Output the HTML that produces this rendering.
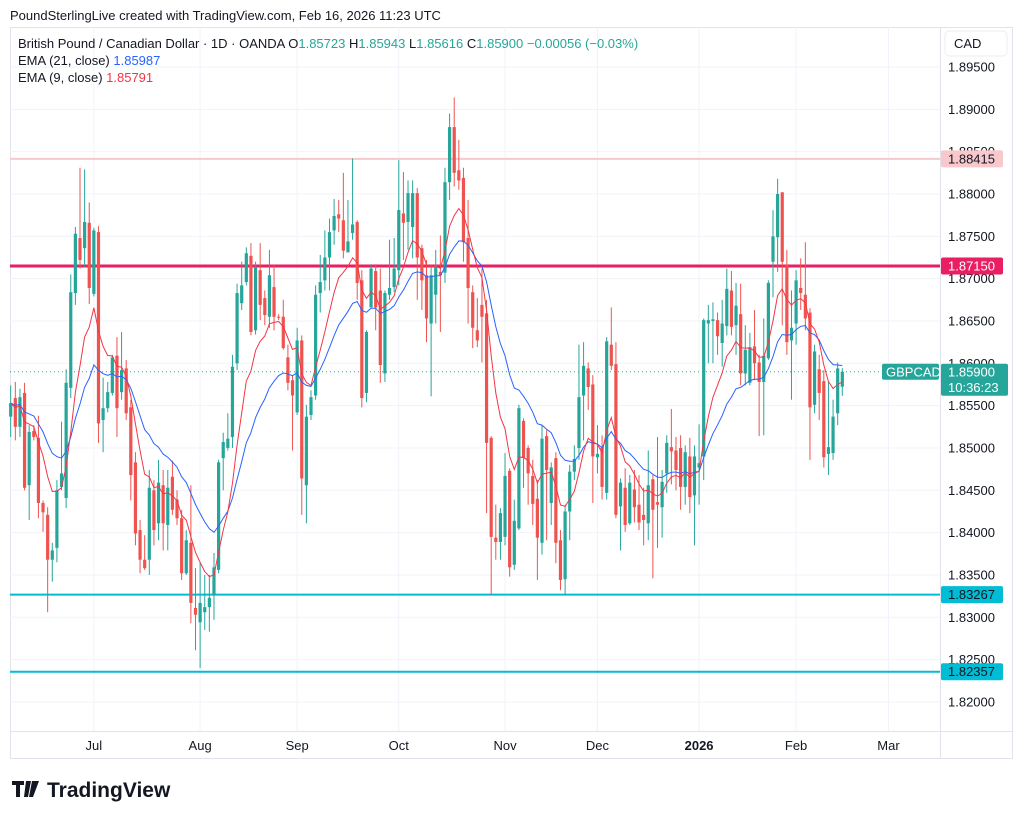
<!DOCTYPE html>
<html><head><meta charset="utf-8"><style>
body{margin:0;background:#fff;font-family:"Liberation Sans",Arial,sans-serif;}
svg text{font-family:"Liberation Sans",Arial,sans-serif;}
</style></head><body>
<svg id="chart" width="1022" height="819" viewBox="0 0 1022 819" xmlns="http://www.w3.org/2000/svg">
<rect width="1022" height="819" fill="#fff"/>
<text x="10" y="20" font-size="13" fill="#131722">PoundSterlingLive created with TradingView.com, Feb 16, 2026 11:23 UTC</text>
<rect x="10.5" y="27.5" width="1002" height="731" fill="none" stroke="#e0e3eb"/>
<g id="grid"></g>
<g id="levels"></g>
<g id="candles"></g>
<g id="emas"></g>
<line x1="940.5" y1="27" x2="940.5" y2="759" stroke="#e0e3eb"/>
<line x1="10" y1="731.5" x2="1012" y2="731.5" stroke="#e0e3eb"/>
<g id="yaxis"></g>
<g id="xaxis"></g>
<g id="badges"></g>
<rect x="945" y="31" width="62" height="25" rx="4" fill="#fff" stroke="#eceef2"/>
<text x="954" y="48" font-size="13" fill="#131722">CAD</text>
<g font-size="13">
<text x="18" y="48" fill="#131722">British Pound / Canadian Dollar · 1D · OANDA <tspan fill="#131722">O</tspan><tspan fill="#26a69a">1.85723</tspan> <tspan fill="#131722">H</tspan><tspan fill="#26a69a">1.85943</tspan> <tspan fill="#131722">L</tspan><tspan fill="#26a69a">1.85616</tspan> <tspan fill="#131722">C</tspan><tspan fill="#26a69a">1.85900 −0.00056 (−0.03%)</tspan></text>
<text x="18" y="65" fill="#131722">EMA (21, close) <tspan fill="#2962ff">1.85987</tspan></text>
<text x="18" y="82" fill="#131722">EMA (9, close) <tspan fill="#f23645">1.85791</tspan></text>
</g>
<g>
<path d="M12 781h12v4h-4v12h-4v-12h-4z M26 781h5l-3 16h-4z M32 781l7 0-6 16h-4z" fill="#131722"/>
<text x="47" y="797" font-size="21" font-weight="bold" fill="#131722">TradingView</text>
</g>
</svg>
<script>
const opens=[1.8537,1.8559,1.8525,1.8565,1.8456,1.8520,1.8512,1.8435,1.8421,1.8368,1.8382,1.8454,1.8441,1.8571,1.8683,1.8748,1.8736,1.8766,1.8682,1.8755,1.8533,1.8547,1.8565,1.8609,1.8566,1.8594,1.8548,1.8483,1.8403,1.8368,1.8368,1.8450,1.8411,1.8456,1.8409,1.8466,1.8439,1.8417,1.8352,1.8388,1.8311,1.8294,1.8306,1.8312,1.8326,1.8356,1.8488,1.8500,1.8513,1.8600,1.8671,1.8696,1.8727,1.8639,1.8710,1.8677,1.8655,1.8690,1.8655,1.8655,1.8607,1.8580,1.8542,1.8627,1.8456,1.8539,1.8562,1.8683,1.8698,1.8725,1.8757,1.8776,1.8769,1.8731,1.8754,1.8767,1.8698,1.8565,1.8666,1.8709,1.8686,1.8588,1.8681,1.8690,1.8710,1.8777,1.8767,1.8761,1.8801,1.8736,1.8704,1.8647,1.8681,1.8708,1.8707,1.8814,1.8879,1.8828,1.8819,1.8748,1.8684,1.8639,1.8669,1.8659,1.8512,1.8394,1.8389,1.8395,1.8473,1.8362,1.8405,1.8532,1.8500,1.8467,1.8440,1.8388,1.8514,1.8435,1.8488,1.8391,1.8345,1.8425,1.8472,1.8500,1.8562,1.8594,1.8575,1.8489,1.8500,1.8447,1.8622,1.8599,1.8431,1.8453,1.8411,1.8451,1.8433,1.8421,1.8411,1.8463,1.8436,1.8430,1.8470,1.8501,1.8497,1.8500,1.8454,1.8490,1.8444,1.8477,1.8490,1.8647,1.8650,1.8651,1.8624,1.8644,1.8686,1.8645,1.8658,1.8588,1.8577,1.8620,1.8601,1.8578,1.8606,1.8720,1.8749,1.8802,1.8716,1.8627,1.8647,1.8689,1.8681,1.8660,1.8551,1.8593,1.8579,1.8493,1.8494,1.8541,1.85723];
const highs=[1.8574,1.8578,1.8570,1.8577,1.8527,1.8527,1.8538,1.8438,1.8430,1.8388,1.8462,1.8531,1.8593,1.8705,1.8761,1.8831,1.8829,1.8790,1.8760,1.8762,1.8583,1.8578,1.8610,1.8631,1.8637,1.8604,1.8557,1.8495,1.8415,1.8397,1.8474,1.8462,1.8486,1.8474,1.8474,1.8485,1.8450,1.8427,1.8403,1.8456,1.8358,1.8365,1.8350,1.8350,1.8376,1.8486,1.8518,1.8541,1.8610,1.8694,1.8720,1.8737,1.8742,1.8720,1.8742,1.8686,1.8734,1.8716,1.8658,1.8675,1.8622,1.8586,1.8642,1.8633,1.8551,1.8568,1.8692,1.8728,1.8757,1.8771,1.8794,1.8793,1.8825,1.8793,1.8842,1.8769,1.8710,1.8639,1.8717,1.8717,1.8712,1.8686,1.8746,1.8748,1.8840,1.8826,1.8816,1.8816,1.8807,1.8740,1.8722,1.8716,1.8734,1.8751,1.8831,1.8895,1.8914,1.8864,1.8831,1.8793,1.8692,1.8677,1.8712,1.8675,1.8514,1.8433,1.8429,1.8494,1.8476,1.8439,1.8551,1.8535,1.8503,1.8486,1.8462,1.8527,1.8521,1.8483,1.8495,1.8403,1.8433,1.8480,1.8503,1.8622,1.8625,1.8601,1.8586,1.8527,1.8515,1.8631,1.8666,1.8625,1.8464,1.8476,1.8468,1.8474,1.8468,1.8453,1.8497,1.8468,1.8513,1.8474,1.8515,1.8546,1.8513,1.8515,1.8503,1.8512,1.8503,1.8528,1.8653,1.8669,1.8672,1.8660,1.8675,1.8712,1.8709,1.8695,1.8694,1.8645,1.8636,1.8663,1.8610,1.8653,1.8698,1.8781,1.8818,1.8802,1.8734,1.8686,1.8710,1.8724,1.8743,1.8665,1.8622,1.8610,1.8592,1.8578,1.8557,1.8601,1.85943];
const lows=[1.8513,1.8509,1.8513,1.8450,1.8415,1.8509,1.8417,1.8401,1.8306,1.8342,1.8365,1.8450,1.8429,1.8559,1.8669,1.8712,1.8714,1.8670,1.8679,1.8506,1.8495,1.8542,1.8562,1.8513,1.8557,1.8533,1.8438,1.8385,1.8352,1.8356,1.8350,1.8385,1.8391,1.8379,1.8379,1.8421,1.8409,1.8344,1.8350,1.8293,1.8261,1.8240,1.8285,1.8283,1.8297,1.8352,1.8450,1.8497,1.8500,1.8592,1.8663,1.8692,1.8633,1.8634,1.8651,1.8645,1.8642,1.8639,1.8651,1.8616,1.8568,1.8497,1.8539,1.8421,1.8411,1.8533,1.8557,1.8660,1.8686,1.8686,1.8740,1.8755,1.8724,1.8734,1.8746,1.8675,1.8548,1.8554,1.8666,1.8639,1.8577,1.8578,1.8675,1.8684,1.8692,1.8722,1.8734,1.8724,1.8675,1.8663,1.8625,1.8561,1.8647,1.8637,1.8695,1.8793,1.8809,1.8805,1.8720,1.8647,1.8618,1.8619,1.8601,1.8423,1.8326,1.8368,1.8368,1.8385,1.8348,1.8356,1.8403,1.8453,1.8433,1.8409,1.8344,1.8374,1.8391,1.8409,1.8364,1.8332,1.8326,1.8391,1.8462,1.8486,1.8509,1.8545,1.8435,1.8470,1.8439,1.8439,1.8592,1.8417,1.8379,1.8401,1.8409,1.8412,1.8403,1.8385,1.8391,1.8346,1.8382,1.8394,1.8447,1.8457,1.8450,1.8427,1.8433,1.8423,1.8385,1.8433,1.8462,1.8600,1.8600,1.8610,1.8596,1.8633,1.8633,1.8610,1.8574,1.8574,1.8574,1.8580,1.8514,1.8515,1.8604,1.8678,1.8708,1.8645,1.8610,1.8557,1.8622,1.8663,1.8639,1.8486,1.8541,1.8533,1.8477,1.8468,1.8486,1.8527,1.85616];
const closes=[1.8553,1.8525,1.8560,1.8453,1.8519,1.8513,1.8435,1.8424,1.8368,1.8379,1.8450,1.8470,1.8577,1.8684,1.8753,1.8722,1.8767,1.8689,1.8757,1.8529,1.8547,1.8566,1.8607,1.8547,1.8592,1.8541,1.8468,1.8399,1.8368,1.8358,1.8453,1.8403,1.8459,1.8411,1.8453,1.8427,1.8417,1.8352,1.8391,1.8317,1.8303,1.8317,1.8312,1.8323,1.8359,1.8483,1.8507,1.8511,1.8596,1.8683,1.8692,1.8730,1.8637,1.8714,1.8669,1.8657,1.8704,1.8655,1.8654,1.8618,1.8577,1.8562,1.8627,1.8464,1.8537,1.8560,1.8681,1.8696,1.8725,1.8755,1.8774,1.8771,1.8733,1.8744,1.8764,1.8695,1.8559,1.8637,1.8712,1.8666,1.8598,1.8683,1.8689,1.8712,1.8781,1.8766,1.8801,1.8801,1.8725,1.8698,1.8653,1.8704,1.8716,1.8704,1.8814,1.8879,1.8825,1.8816,1.8743,1.8689,1.8642,1.8627,1.8655,1.8506,1.8395,1.8389,1.8423,1.8467,1.8359,1.8414,1.8547,1.8488,1.8470,1.8434,1.8394,1.8511,1.8474,1.8477,1.8388,1.8344,1.8425,1.8472,1.8487,1.8560,1.8597,1.8572,1.8490,1.8493,1.8454,1.8626,1.8597,1.8421,1.8459,1.8409,1.8459,1.8430,1.8412,1.8415,1.8456,1.8427,1.8433,1.8460,1.8506,1.8496,1.8474,1.8454,1.8495,1.8442,1.8490,1.8482,1.8651,1.8651,1.8652,1.8632,1.8647,1.8688,1.8643,1.8668,1.8588,1.8616,1.8619,1.8600,1.8578,1.8609,1.8695,1.8750,1.8800,1.8720,1.8625,1.8642,1.8698,1.8683,1.8653,1.8548,1.8614,1.8565,1.8489,1.8501,1.8537,1.8594,1.85900];
const monthLabels=["Jul","Aug","Sep","Oct","Nov","Dec","2026","Feb","Mar"];
const monthBars=[18,41,62,84,107,127,149,170,190];
const priceTicks=[1.895,1.89,1.885,1.88,1.875,1.87,1.865,1.86,1.855,1.85,1.845,1.84,1.835,1.83,1.825,1.82];
const levelPrices=[1.88415,1.87150,1.83267,1.82357];
const levelColors=["#f8c8cc","#e91e63","#00bcd4","#00bcd4"];
const levelWidths=[2,3,2,2];
const lastPrice=1.85900;

const NS="http://www.w3.org/2000/svg";
const X0=10.7,DX=4.62;
function xOf(i){return X0+i*DX;}
function yOf(p){return 67+(1.895-p)/0.005*42.33;}
function mk(tag,attrs,parent){const e=document.createElementNS(NS,tag);for(const k in attrs)e.setAttribute(k,attrs[k]);parent.appendChild(e);return e;}
const grid=document.getElementById('grid');
priceTicks.forEach((p)=>{
  const l=mk('line',{x1:10,x2:940,y1:yOf(p),y2:yOf(p),stroke:'#f0f3fa'},grid);
  
  
});
monthBars.forEach((b)=>{
  const l=mk('line',{x1:xOf(b),x2:xOf(b),y1:27,y2:731,stroke:'#f0f3fa'},grid);
  
  
});
const lv=document.getElementById('levels');
levelPrices.forEach((p,i)=>{
  const l=mk('line',{x1:10,x2:940,y1:yOf(p),y2:yOf(p),stroke:levelColors[i],'stroke-width':levelWidths[i]},lv);
  
  
});
const pl=mk('line',{x1:10,x2:940,y1:yOf(lastPrice),y2:yOf(lastPrice),stroke:'#26a69a','stroke-dasharray':'1 3'},lv);


const cg=document.getElementById('candles');
closes.forEach((c,i)=>{
  const o=opens[i],up=c>=o,col=up?'#26a69a':'#ef5350',x=xOf(i);
  const g=mk('g',{},cg);
  
  
  mk('line',{x1:x,x2:x,y1:yOf(highs[i]),y2:yOf(lows[i]),stroke:col,'stroke-width':1},g);
  const t=yOf(Math.max(o,c)),b=yOf(Math.min(o,c));
  mk('rect',{x:x-1.6,y:t,width:3.2,height:Math.max(1,b-t),fill:col},g);
});
function ema(n){const k=2/(n+1);let v=closes[0];return closes.map(c=>v=c*k+v*(1-k));}
const eg=document.getElementById('emas');
[[21,'#2962ff','ema21-line'],[9,'#f23645','ema9-line']].forEach(([n,col,name])=>{
  const e=ema(n);
  const p=mk('polyline',{points:e.map((v,i)=>xOf(i).toFixed(1)+','+yOf(v).toFixed(1)).join(' '),fill:'none',stroke:col,'stroke-width':1},eg);
  
  
});
const ya=document.getElementById('yaxis');
priceTicks.forEach(p=>{
  const t=mk('text',{x:948,y:yOf(p)+4.5,'font-size':13,fill:'#131722'},ya);
  t.textContent=p.toFixed(5);
  
  
});
const xa=document.getElementById('xaxis');
monthLabels.forEach((m,i)=>{
  const t=mk('text',{x:xOf(monthBars[i]),y:750,'font-size':13,fill:'#131722','text-anchor':'middle','font-weight':m==='2026'?'bold':'normal'},xa);
  t.textContent=m;
  
  
});
const bg=document.getElementById('badges');
levelPrices.forEach((p,i)=>{
  const y=yOf(p);
  const r=mk('rect',{x:941,y:y-8.5,width:62,height:17,rx:2,fill:levelColors[i]},bg);
  
  
  const t=mk('text',{x:948,y:y+4.5,'font-size':13,fill:i===1?'#fff':'#131722'},bg);
  t.textContent=p.toFixed(5);
  
  
});
const ly=yOf(lastPrice);
const sb=mk('rect',{x:882,y:ly-8,width:57,height:16,rx:2,fill:'#26a69a'},bg);


const st=mk('text',{x:886,y:ly+4.5,'font-size':13,fill:'#fff'},bg);
st.textContent='GBPCAD';


const pb=mk('rect',{x:941,y:ly-8,width:67,height:32,rx:2,fill:'#26a69a'},bg);


const pt=mk('text',{x:948,y:ly+4.5,'font-size':13,fill:'#fff'},bg);
pt.textContent=lastPrice.toFixed(5);


const ct=mk('text',{x:948,y:ly+20,'font-size':13,fill:'#fff'},bg);
ct.textContent='10:36:23';


</script>
</body></html>
